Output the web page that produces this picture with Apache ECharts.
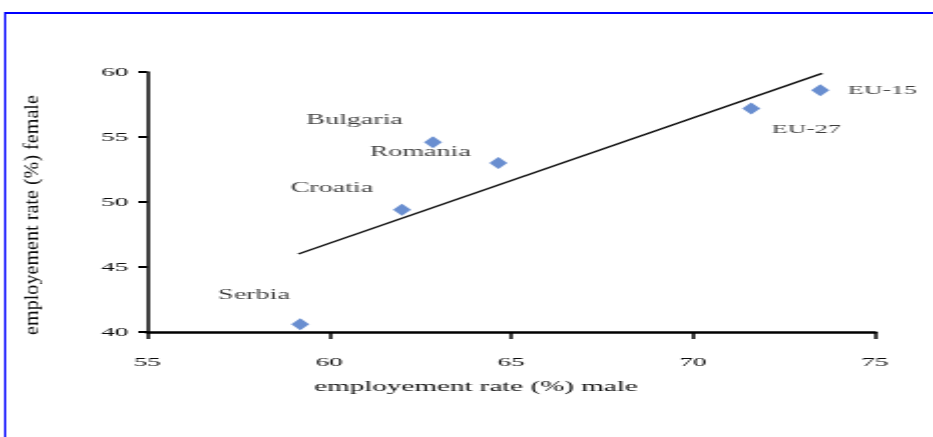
<!DOCTYPE html>
<html>
<head>
<meta charset="utf-8">
<script src="https://cdn.jsdelivr.net/npm/echarts@6/dist/echarts.min.js"></script>
<style>
  html, body { margin: 0; padding: 0; background: #ffffff; overflow: hidden; }
  /* The figure is laid out at half width and stretched horizontally */
  #chart { width: 466.5px; height: 437px; transform: scaleX(2); transform-origin: 0 0; }
</style>
</head>
<body>
<div id="chart"></div>
<script>
// Employment rates (%) by country
const countries = ['Serbia', 'Croatia', 'Bulgaria', 'Romania', 'EU-27', 'EU-15'];
const maleRate = [59.2, 62.0, 62.85, 64.65, 71.6, 73.5];
const femaleRate = [40.6, 49.4, 54.6, 53.0, 57.2, 58.6];

// Linear trend line endpoints
const trendMale = [59.15, 73.55];
const trendFemale = [46.0, 59.9];

// Axis ticks
const xTicks = [55, 60, 65, 70, 75];
const yTicks = [40, 45, 50, 55, 60];

// Label placement relative to each marker
const labelOffsets = {
  'Serbia': [-23, -29],
  'Croatia': [-35, -21],
  'Bulgaria': [-39, -22],
  'Romania': [-39, -11],
  'EU-27': [27.5, 21.5],
  'EU-15': [31, 0]
};

const serif = '"Liberation Serif", "DejaVu Serif", serif';
const ink = '#0d0d0d';

const points = countries.map((name, i) => ({
  name: name,
  value: [maleRate[i], femaleRate[i]],
  label: { offset: labelOffsets[name], fontSize: name.startsWith('EU') ? 13 : 14 }
}));

const chart = echarts.init(document.getElementById('chart'), null, { width: 466.5, height: 437 });

chart.setOption({
  backgroundColor: '#ffffff',
  animation: false,
  grid: { left: 73.5, right: 30, top: 72, bottom: 105 },
  xAxis: {
    type: 'value',
    min: xTicks[0],
    max: xTicks[xTicks.length - 1],
    interval: 5,
    name: 'employement rate (%) male',
    nameLocation: 'middle',
    nameGap: 48,
    nameTextStyle: { fontFamily: serif, fontSize: 14.5, color: ink, padding: [0, 35, 0, 0] },
    axisLine: { show: true, onZero: false, lineStyle: { color: '#000', width: 2.5 } },
    axisTick: { show: true, inside: false, length: 7, lineStyle: { color: '#000', width: 1.5 } },
    axisLabel: { margin: 23, fontFamily: serif, fontSize: 13.5, color: ink },
    splitLine: { show: false }
  },
  yAxis: {
    type: 'value',
    min: yTicks[0],
    max: yTicks[yTicks.length - 1],
    interval: 5,
    axisLine: { show: true, onZero: false, lineStyle: { color: '#000', width: 1.5 } },
    axisTick: { show: true, inside: false, length: 4.5, lineStyle: { color: '#000', width: 2 } },
    axisLabel: { margin: 9.5, fontFamily: serif, fontSize: 13.5, color: ink },
    splitLine: { show: false }
  },
  series: [
    {
      type: 'line',
      data: trendMale.map((x, i) => [x, trendFemale[i]]),
      symbol: 'none',
      lineStyle: { color: '#111', width: 1.5 },
      z: 2
    },
    {
      type: 'scatter',
      data: points,
      symbol: 'diamond',
      symbolSize: [9, 12],
      itemStyle: { color: '#4472c4' },
      label: {
        show: true,
        position: 'inside',
        formatter: '{b}',
        fontFamily: serif,
        color: ink,
        align: 'center',
        verticalAlign: 'middle'
      },
      z: 3
    }
  ],
  graphic: [
    // Frame: left and top rules
    { type: 'rect', shape: { x: 2, y: 12, width: 1, height: 430 }, style: { fill: '#0000ff' }, silent: true },
    { type: 'rect', shape: { x: 2, y: 12, width: 470, height: 2 }, style: { fill: '#0000ff' }, silent: true },
    // Vertical axis title
    {
      type: 'text',
      x: 16,
      y: 215,
      rotation: Math.PI / 2,
      scaleX: 1.83,
      style: {
        text: 'employement rate (%) female',
        font: '11px "Liberation Serif", serif',
        fill: ink,
        align: 'center',
        verticalAlign: 'middle',
        textAlign: 'center',
        textVerticalAlign: 'middle'
      },
      silent: true
    }
  ]
});
</script>
</body>
</html>
